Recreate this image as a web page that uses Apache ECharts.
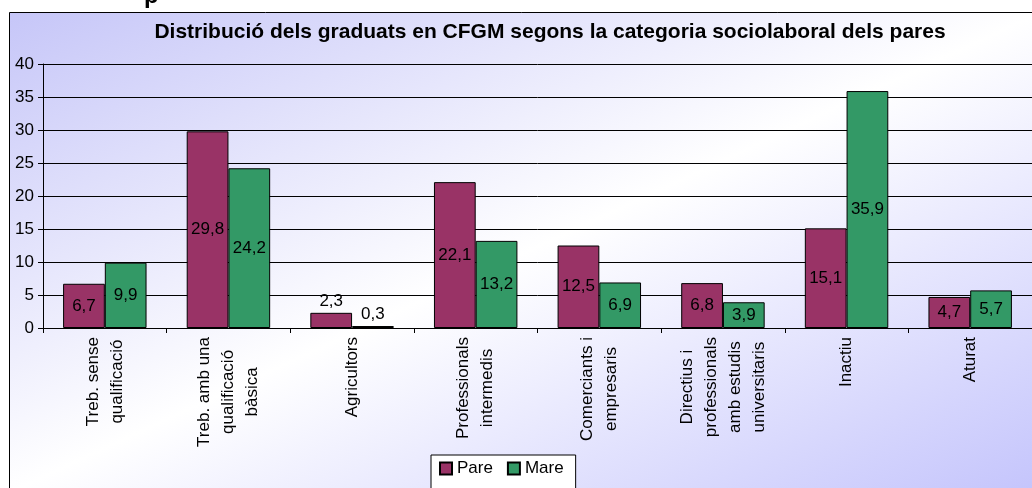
<!DOCTYPE html>
<html>
<head>
<meta charset="utf-8">
<script src="https://cdn.jsdelivr.net/npm/echarts@6/dist/echarts.min.js"></script>
<style>
  html, body { margin: 0; padding: 0; background: #fff; overflow: hidden; }
  #chart { width: 1032px; height: 488px; }
</style>
</head>
<body>
<div id="chart"></div>
<script>
const categories = [
  'Treb. sense\nqualificació',
  'Treb. amb una\nqualificació\nbàsica',
  'Agricultors',
  'Professionals\nintermedis',
  'Comerciants i\nempresaris',
  'Directius i\nprofessionals\namb estudis\nuniversitaris',
  'Inactiu',
  'Aturat'
]
const pare = [6.7, 29.8, 2.3, 22.1, 12.5, 6.8, 15.1, 4.7]
const mare = [9.9, 24.2, 0.3, 13.2, 6.9, 3.9, 35.9, 5.7]
const yTicks = { min: 0, max: 40, interval: 5 }

const font = "'Liberation Sans', Arial, sans-serif"
const chart = echarts.init(document.getElementById('chart'))

const fmt = v => v.toFixed(1).replace('.', ',')
// bars too short for their label get it above the bar
const toItems = arr => arr.map(v => ({
  value: v,
  label: { position: v < 3 ? 'top' : 'inside' }
}))

// frame fill: excel style diagonal gradient (isolines run corner to corner)
const frameW = 1030, frameH = 480
const k = 2 * frameW * frameH / (frameW * frameW + frameH * frameH)
const frameFill = new echarts.graphic.LinearGradient(0, 0, frameH * k / frameW, frameW * k / frameH, [
  { offset: 0, color: '#c6c6f8' },
  { offset: 0.5, color: '#ffffff' },
  { offset: 1, color: '#c4c4fc' }
])

const option = {
  backgroundColor: '#fff',
  animation: false,
  textStyle: { fontFamily: font },
  title: {
    text: 'Distribució dels graduats en CFGM segons la categoria sociolaboral dels pares',
    left: 545,
    top: 17,
    textAlign: 'center',
    textStyle: { fontFamily: font, fontSize: 21, fontWeight: 'bold', color: '#000' }
  },
  graphic: [
    {
      type: 'rect',
      z: -10,
      shape: { x: 9.5, y: 12.5, width: frameW, height: frameH },
      style: { fill: frameFill, stroke: '#000', lineWidth: 1 }
    },
    {
      type: 'text',
      z: -5,
      style: { text: 'p', x: 144, y: -16, font: 'bold 24px ' + font, fill: '#000' }
    }
  ],
  legend: {
    data: ['Pare', 'Mare'],
    left: 431,
    top: 455,
    icon: 'rect',
    itemWidth: 12,
    itemHeight: 12,
    itemGap: 14,
    padding: [5, 12, 12, 8],
    backgroundColor: '#fff',
    borderColor: '#000',
    borderWidth: 1,
    borderRadius: 0,
    textStyle: { fontFamily: font, fontSize: 17, color: '#000' }
  },
  grid: { left: 43, right: -7, top: 64, bottom: 160, containLabel: false },
  xAxis: {
    type: 'category',
    data: categories,
    axisLine: { lineStyle: { color: '#000', width: 1 } },
    axisTick: { show: true, length: 5, lineStyle: { color: '#000' } },
    axisLabel: {
      interval: 0,
      rotate: 90,
      margin: 9,
      color: '#000',
      formatter: v => v.split('\n').map(s => '{c|' + s + '}').join('\n'),
      rich: {
        c: { align: 'center', fontFamily: font, fontSize: 17, lineHeight: 24, color: '#000' }
      }
    }
  },
  yAxis: {
    type: 'value',
    min: yTicks.min,
    max: yTicks.max,
    interval: yTicks.interval,
    axisLine: { show: true, lineStyle: { color: '#000' } },
    axisTick: { show: true, length: 5, lineStyle: { color: '#000' } },
    axisLabel: { fontFamily: font, fontSize: 17, color: '#000', margin: 9 },
    splitLine: { lineStyle: { color: '#000', width: 1 } }
  },
  series: [
    {
      name: 'Pare',
      type: 'bar',
      data: toItems(pare),
      barGap: '0%',
      barCategoryGap: '32.5%',
      itemStyle: { color: '#993366', borderColor: '#000', borderWidth: 1 },
      label: {
        show: true,
        formatter: p => fmt(p.value),
        fontFamily: font,
        fontSize: 17,
        color: '#000',
        distance: 3
      }
    },
    {
      name: 'Mare',
      type: 'bar',
      data: toItems(mare),
      itemStyle: { color: '#339966', borderColor: '#000', borderWidth: 1 },
      label: {
        show: true,
        formatter: p => fmt(p.value),
        fontFamily: font,
        fontSize: 17,
        color: '#000',
        distance: 3
      }
    }
  ]
}

chart.setOption(option)
</script>
</body>
</html>
